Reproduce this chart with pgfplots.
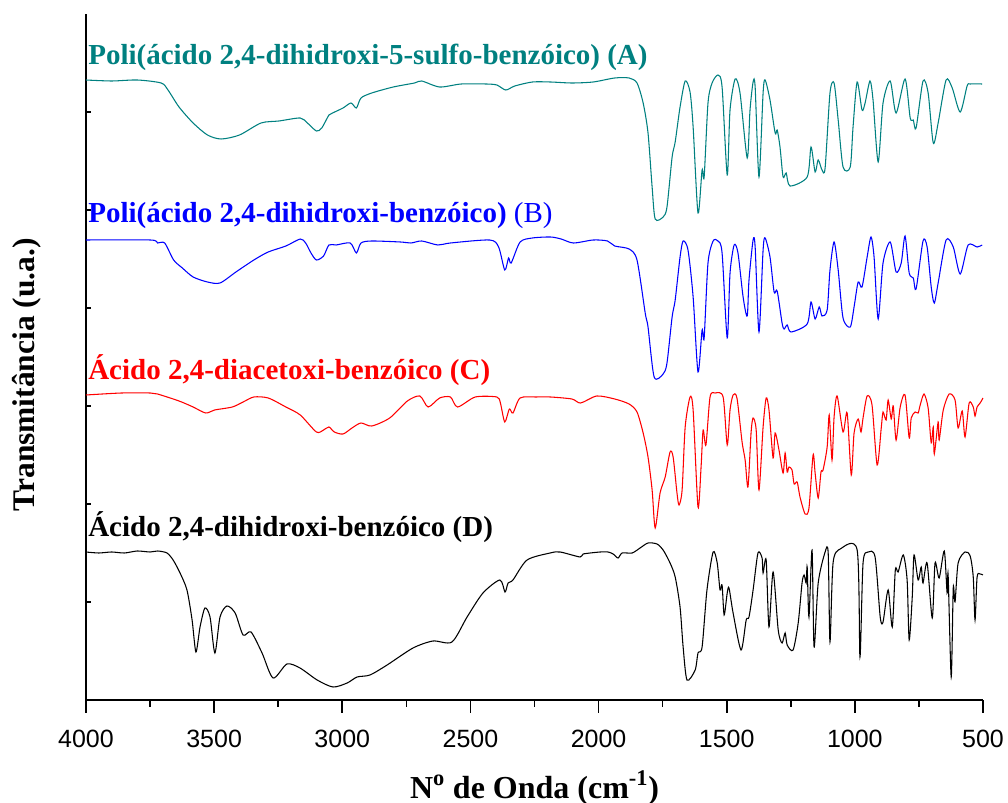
\documentclass[border=0pt]{standalone}
\usepackage{fontspec}
\setmainfont{Liberation Serif}
\newfontfamily\arialf{Liberation Sans}
\usepackage{pgfplots}
\pgfplotsset{compat=1.18}
\definecolor{tealA}{RGB}{0,128,128}
\definecolor{blueB}{RGB}{0,0,255}
\definecolor{redC}{RGB}{255,0,0}
\begin{document}
\begin{tikzpicture}
\useasboundingbox (-64.5pt,-77.25pt) rectangle (691.5pt,525pt);
\begin{axis}[
 scale only axis, width=672.75pt, height=514.5pt,
 xmin=500, xmax=4000, ymin=0, ymax=686, x dir=reverse,
 axis x line*=bottom, axis y line*=left,
 axis line style={line width=1.5pt},
 xtick={500,1000,...,4000}, minor x tick num=1,
 ytick=\empty,
 extra y ticks={98,196,294,392,490,588}, extra y tick labels={},
 extra y tick style={major tick length=3.5pt, tick align=inside},
 tick align=outside, major tick length=9.75pt, minor tick length=5.25pt,
 every tick/.style={black, line width=1.2pt},
 xticklabel style={font=\arialf\fontsize{18.75}{20}\selectfont, yshift=-9.5pt},
 /pgf/number format/1000 sep={}, /pgf/number format/assume math mode=true,
 xlabel={N\textsuperscript{o} de Onda (cm\textsuperscript{-1})},
 xlabel style={font=\bfseries\fontsize{24}{28}\selectfont, at={(axis description cs:0.5,-0.1429)}, anchor=base},
 ylabel={Transmitância (u.a.)},
 ylabel style={font=\bfseries\fontsize{23.6}{28}\selectfont, at={(axis description cs:-0.0658,0.474)}, anchor=center},
 clip=false,
 every axis plot/.append style={smooth, tension=0.45, line width=0.8pt},
]
% A
\addplot[tealA] coordinates {
(4000,620) (3900,619) (3800,620) (3707,617) (3680,610) (3637,593) (3582,577) (3526,565) (3473,561) (3401,565) (3317,577) (3247,579) (3164,582) (3136,577) (3101,569) (3080,572) (3052,585) (3038,587) (2997,592) (2966,597) (2945,592) (2927,602) (2885,607) (2801,613) (2718,617) (2690,619) (2620,613) (2536,616) (2439,616) (2397,615) (2362,610) (2327,614) (2258,618) (2188,618) (2104,617) (2021,618) (1937,622) (1881,622) (1850,617) (1826,597) (1807,567) (1791,513) (1779,481) (1748,483) (1733,493) (1713,543) (1701,558) (1682,593) (1662,619) (1643,608) (1631,573) (1612,487) (1596,530) (1588,523) (1573,597) (1557,617) (1534,625) (1518,613) (1498,525) (1487,590) (1467,621) (1448,607) (1420,542) (1409,590) (1397,618) (1389,613) (1374,523) (1358,607) (1350,620) (1331,600) (1311,567) (1303,570) (1292,553) (1280,523) (1268,527) (1253,514) (1186,523) (1171,553) (1155,528) (1143,540) (1128,530) (1116,532) (1097,607) (1081,617) (1065,580) (1046,533) (1018,533) (1007,573) (991,618) (972,590) (960,597) (941,619) (929,600) (909,538) (890,597) (862,619) (839,587) (804,621) (784,582) (772,580) (761,572) (734,619) (714,607) (694,557) (675,577) (644,620) (620,612) (589,588) (562,614) (550,616) (503,616)
};
% B
\addplot[blueB] coordinates {
(4000,460) (3749,460) (3721,457) (3693,457) (3658,440) (3624,432) (3582,423) (3526,418) (3477,417) (3415,428) (3345,440) (3289,448) (3220,454) (3164,461) (3143,457) (3122,447) (3101,440) (3073,444) (3052,455) (3024,455) (2969,457) (2945,447) (2927,457) (2885,459) (2773,458) (2732,457) (2690,459) (2627,455) (2578,457) (2425,460) (2390,453) (2366,430) (2351,442) (2341,437) (2306,458) (2258,462) (2188,463) (2146,461) (2098,457) (2021,460) (1965,459) (1937,454) (1881,451) (1850,440) (1818,387) (1807,373) (1783,323) (1748,326) (1733,337) (1713,383) (1701,400) (1682,443) (1670,459) (1651,450) (1631,403) (1612,328) (1596,370) (1588,362) (1573,437) (1553,459) (1534,459) (1518,447) (1498,362) (1487,427) (1471,455) (1456,447) (1436,403) (1420,384) (1413,420) (1397,460) (1389,453) (1374,368) (1358,450) (1350,462) (1331,443) (1315,408) (1303,409) (1284,377) (1276,371) (1264,375) (1249,368) (1186,376) (1171,398) (1155,381) (1139,393) (1128,384) (1108,390) (1097,430) (1081,458) (1065,430) (1046,382) (1018,373) (1003,393) (987,418) (972,413) (952,443) (937,463) (925,443) (909,381) (890,437) (862,458) (839,428) (819,437) (804,464) (788,427) (772,422) (761,411) (734,459) (718,453) (702,413) (690,397) (675,417) (644,460) (616,453) (589,426) (558,455) (523,453) (503,455)
};
% C
\addplot[redC] coordinates {
(4000,305) (3861,307) (3749,307) (3721,306) (3637,299) (3582,293) (3533,287) (3498,290) (3429,293) (3387,298) (3345,303) (3289,302) (3220,293) (3164,285) (3101,268) (3073,270) (3052,273) (3031,268) (2997,266) (2962,272) (2927,277) (2885,274) (2815,282) (2746,299) (2697,304) (2665,293) (2620,302) (2578,303) (2550,293) (2481,303) (2397,303) (2383,297) (2366,278) (2348,291) (2334,287) (2306,302) (2244,303) (2188,303) (2104,301) (2070,297) (2007,304) (1937,301) (1881,296) (1850,288) (1826,267) (1807,243) (1791,210) (1779,172) (1760,207) (1740,223) (1721,248) (1709,243) (1694,207) (1686,195) (1674,210) (1662,273) (1643,303) (1631,290) (1612,193) (1600,233) (1592,270) (1581,255) (1565,303) (1545,307) (1514,303) (1498,255) (1487,290) (1475,305) (1460,302) (1440,258) (1428,240) (1417,213) (1405,267) (1397,282) (1385,270) (1374,210) (1358,273) (1346,302) (1335,290) (1319,242) (1311,267) (1296,250) (1280,227) (1272,247) (1264,228) (1257,233) (1245,230) (1237,216) (1225,218) (1214,203) (1194,186) (1179,192) (1163,245) (1155,227) (1143,202) (1132,228) (1124,230) (1108,253) (1100,285) (1089,240) (1081,283) (1069,304) (1046,268) (1030,287) (1014,225) (1003,267) (987,281) (976,268) (968,282) (952,304) (933,295) (913,235) (897,272) (890,288) (878,280) (870,300) (858,281) (850,294) (839,260) (823,293) (804,305) (788,262) (780,282) (765,288) (753,287) (745,295) (730,306) (714,292) (702,257) (694,273) (690,246) (675,278) (671,260) (655,290) (632,306) (609,300) (597,272) (581,289) (570,263) (554,297) (538,293) (531,284) (523,293) (511,297) (500,302)
};
% D
\addplot[black] coordinates {
(4000,148) (3950,147) (3900,148) (3850,147) (3800,149) (3750,148) (3720,149) (3684,147) (3660,140) (3633,127) (3606,110) (3586,80) (3571,48) (3555,73) (3536,92) (3516,83) (3497,47) (3477,83) (3450,94) (3418,87) (3387,65) (3356,68) (3313,47) (3270,22) (3216,36) (3165,32) (3098,20) (3036,13) (2981,17) (2942,23) (2892,25) (2825,35) (2724,52) (2646,59) (2572,58) (2513,83) (2451,107) (2385,120) (2365,108) (2353,117) (2334,120) (2279,140) (2189,147) (2150,148) (2072,143) (2060,146) (1994,148) (1963,148) (1943,146) (1924,142) (1908,147) (1869,147) (1838,152) (1807,157) (1772,156) (1748,150) (1721,137) (1701,123) (1682,93) (1670,53) (1655,20) (1623,30) (1612,47) (1596,53) (1577,110) (1553,148) (1537,137) (1526,110) (1518,115) (1510,85) (1498,107) (1491,112) (1475,87) (1444,50) (1424,80) (1413,83) (1397,110) (1378,147) (1362,142) (1358,127) (1346,140) (1335,73) (1319,128) (1299,70) (1284,57) (1272,67) (1264,55) (1241,50) (1221,77) (1206,117) (1198,125) (1190,117) (1186,133) (1179,83) (1167,150) (1159,53) (1143,117) (1116,148) (1104,147) (1097,58) (1085,137) (1057,151) (991,150) (980,43) (968,137) (948,148) (921,143) (901,83) (890,78) (870,110) (854,73) (842,130) (831,128) (811,145) (796,120) (788,60) (776,103) (769,145) (753,120) (741,133) (734,117) (718,137) (698,82) (687,137) (671,122) (651,149) (640,107) (636,125) (624,23) (616,112) (609,98) (597,137) (570,148) (550,144) (538,123) (531,80) (523,123) (511,126) (500,125)
};
\node[anchor=base west, inner sep=0pt, text=tealA, font=\bfseries\fontsize{21.75}{24}\selectfont] at (axis cs:3992,635) {Poli(ácido 2,4-dihidroxi-5-sulfo-benzóico) (A)};
\node[anchor=base west, inner sep=0pt, text=blueB, font=\fontsize{21.75}{24}\selectfont] at (axis cs:3992,477) {\textbf{Poli(ácido 2,4-dihidroxi-benzóico)} (B)};
\node[anchor=base west, inner sep=0pt, text=redC, font=\bfseries\fontsize{21.75}{24}\selectfont] at (axis cs:3992,320) {Ácido 2,4-diacetoxi-benzóico (C)};
\node[anchor=base west, inner sep=0pt, text=black, font=\bfseries\fontsize{21.75}{24}\selectfont] at (axis cs:3992,163) {Ácido 2,4-dihidroxi-benzóico (D)};
\end{axis}
\end{tikzpicture}
\end{document}
